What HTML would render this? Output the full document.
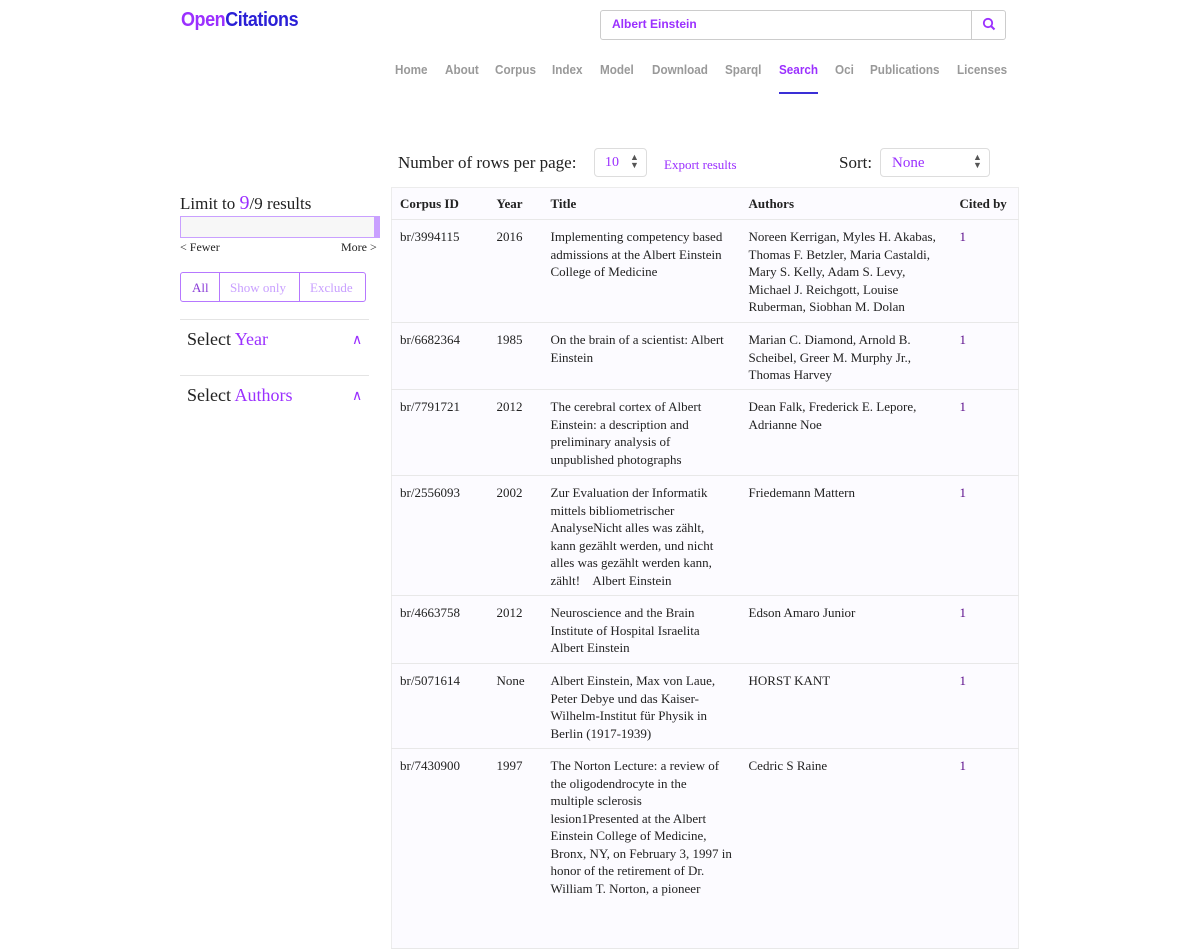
<!DOCTYPE html>
<html><head><meta charset="utf-8"><style>
*{margin:0;padding:0;box-sizing:border-box}
body{width:1200px;height:900px;overflow:hidden;background:#fff;font-family:"Liberation Serif",serif;color:#222;position:relative}
.a{position:absolute;white-space:nowrap}
.logo{left:181px;top:9px;font:bold 20px "Liberation Sans",sans-serif;letter-spacing:-0.5px;transform:scaleX(0.9);transform-origin:left}
.nav{top:62px;font:bold 13px "Liberation Sans",sans-serif;color:#999;transform:scaleX(0.9);transform-origin:left}
.p{color:#9b30ff}
table{position:absolute;left:391px;top:187px;width:628px;border-collapse:collapse;background:#fcfbff;border:1px solid #ececec;font-size:13px}
td,th{vertical-align:top;text-align:left;padding:8px 0 0 8px;line-height:17.5px;white-space:nowrap;border-bottom:1px solid #e8e8e8}
th{padding:7px 0 0 8px;height:32px;font-weight:bold}
.c1{color:#5a0a8a}
</style></head><body>
<div class="a logo"><span style="color:#9b30ff">Open</span><span style="color:#2a1fd6">Citations</span></div>
<div class="a" style="left:600px;top:10px;width:406px;height:30px;border:1px solid #ccc;border-radius:3px"></div>
<div class="a" style="left:971px;top:10px;width:1px;height:30px;background:#ccc"></div>
<div class="a" style="left:612px;top:17px;font:bold 12px 'Liberation Sans',sans-serif;color:#9b30ff">Albert Einstein</div>
<svg class="a" style="left:982px;top:17px" width="14" height="14"><circle cx="6" cy="6" r="4.2" fill="none" stroke="#9b30ff" stroke-width="1.8"/><line x1="9" y1="9" x2="12.5" y2="12.5" stroke="#9b30ff" stroke-width="2"/></svg>
<div class="a nav" style="left:395px">Home</div>
<div class="a nav" style="left:445px">About</div>
<div class="a nav" style="left:495px">Corpus</div>
<div class="a nav" style="left:552px">Index</div>
<div class="a nav" style="left:600px">Model</div>
<div class="a nav" style="left:652px">Download</div>
<div class="a nav" style="left:725px">Sparql</div>
<div class="a nav" style="left:779px;color:#9b30ff">Search</div>
<div class="a" style="left:779px;top:92px;width:39px;height:2px;background:#3a2fd6"></div>
<div class="a nav" style="left:835px">Oci</div>
<div class="a nav" style="left:870px">Publications</div>
<div class="a nav" style="left:957px">Licenses</div>

<div class="a" style="left:398px;top:153px;font-size:17px">Number of rows per page:</div>
<div class="a" style="left:594px;top:148px;width:53px;height:29px;border:1px solid #ddd;border-radius:4px"></div>
<div class="a p" style="left:605px;top:155px;font-size:14px">10</div>
<div class="a" style="left:630px;top:153px;font-size:9px;color:#555;line-height:8px">▲<br>▼</div>
<div class="a p" style="left:664px;top:157px;font-size:13px">Export results</div>
<div class="a" style="left:839px;top:153px;font-size:17px">Sort:</div>
<div class="a" style="left:880px;top:148px;width:110px;height:29px;border:1px solid #ddd;border-radius:4px"></div>
<div class="a p" style="left:892px;top:155px;font-size:15px">None</div>
<div class="a" style="left:973px;top:153px;font-size:9px;color:#555;line-height:8px">▲<br>▼</div>

<div class="a" style="left:180px;top:192px;font-size:17px">Limit to <span class="p" style="font-size:20px">9</span>/9 results</div>
<div class="a" style="left:180px;top:216px;width:200px;height:22px;border:1px solid #c9a0ff;background:#f7f7f7"></div>
<div class="a" style="left:374px;top:216px;width:6px;height:22px;background:#c9a0ff"></div>
<div class="a" style="left:180px;top:240px;font-size:12px">&lt; Fewer</div>
<div class="a" style="left:341px;top:240px;font-size:12px">More &gt;</div>
<div class="a" style="left:180px;top:272px;width:186px;height:30px;border:1px solid #b678ff;border-radius:3px"></div>
<div class="a" style="left:219px;top:272px;width:1px;height:30px;background:#b678ff"></div>
<div class="a" style="left:299px;top:272px;width:1px;height:30px;background:#b678ff"></div>
<div class="a" style="left:192px;top:280px;font-size:13px;color:#8a3cd8">All</div>
<div class="a" style="left:230px;top:280px;font-size:13px;color:#c9a0ff">Show only</div>
<div class="a" style="left:310px;top:280px;font-size:13px;color:#c9a0ff">Exclude</div>
<div class="a" style="left:180px;top:319px;width:189px;height:1px;background:#e4e4e4"></div>
<div class="a" style="left:187px;top:329px;font-size:18px">Select <span class="p">Year</span></div>
<div class="a p" style="left:352px;top:332px;font-size:14px">∧</div>
<div class="a" style="left:180px;top:375px;width:189px;height:1px;background:#e4e4e4"></div>
<div class="a" style="left:187px;top:385px;font-size:18px">Select <span class="p">Authors</span></div>
<div class="a p" style="left:352px;top:388px;font-size:14px">∧</div>

<table>
<colgroup><col style="width:97px"><col style="width:54px"><col style="width:198px"><col style="width:211px"><col></colgroup>
<tr><th>Corpus ID</th><th>Year</th><th>Title</th><th>Authors</th><th>Cited by</th></tr>
<tr style="height:103px"><td>br/3994115</td><td>2016</td><td>Implementing competency based<br>admissions at the Albert Einstein<br>College of Medicine</td><td>Noreen Kerrigan, Myles H. Akabas,<br>Thomas F. Betzler, Maria Castaldi,<br>Mary S. Kelly, Adam S. Levy,<br>Michael J. Reichgott, Louise<br>Ruberman, Siobhan M. Dolan</td><td class="c1">1</td></tr>
<tr style="height:67px"><td>br/6682364</td><td>1985</td><td>On the brain of a scientist: Albert<br>Einstein</td><td>Marian C. Diamond, Arnold B.<br>Scheibel, Greer M. Murphy Jr.,<br>Thomas Harvey</td><td class="c1">1</td></tr>
<tr style="height:86px"><td>br/7791721</td><td>2012</td><td>The cerebral cortex of Albert<br>Einstein: a description and<br>preliminary analysis of<br>unpublished photographs</td><td>Dean Falk, Frederick E. Lepore,<br>Adrianne Noe</td><td class="c1">1</td></tr>
<tr style="height:120px"><td>br/2556093</td><td>2002</td><td>Zur Evaluation der Informatik<br>mittels bibliometrischer<br>AnalyseNicht alles was zählt,<br>kann gezählt werden, und nicht<br>alles was gezählt werden kann,<br>zählt! &nbsp;&nbsp; Albert Einstein</td><td>Friedemann Mattern</td><td class="c1">1</td></tr>
<tr style="height:68px"><td>br/4663758</td><td>2012</td><td>Neuroscience and the Brain<br>Institute of Hospital Israelita<br>Albert Einstein</td><td>Edson Amaro Junior</td><td class="c1">1</td></tr>
<tr style="height:85px"><td>br/5071614</td><td>None</td><td>Albert Einstein, Max von Laue,<br>Peter Debye und das Kaiser-<br>Wilhelm-Institut für Physik in<br>Berlin (1917-1939)</td><td>HORST KANT</td><td class="c1">1</td></tr>
<tr style="height:200px"><td>br/7430900</td><td>1997</td><td>The Norton Lecture: a review of<br>the oligodendrocyte in the<br>multiple sclerosis<br>lesion1Presented at the Albert<br>Einstein College of Medicine,<br>Bronx, NY, on February 3, 1997 in<br>honor of the retirement of Dr.<br>William T. Norton, a pioneer</td><td>Cedric S Raine</td><td class="c1">1</td></tr>
</table>
</body></html>
